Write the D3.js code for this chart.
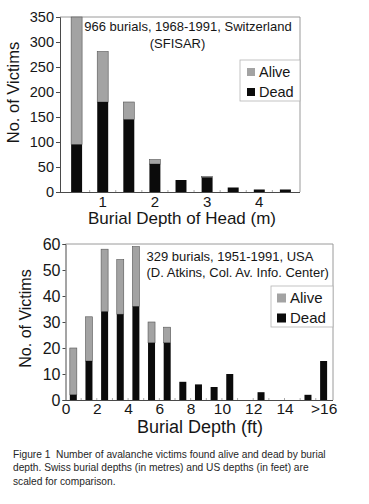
<!DOCTYPE html>
<html><head><meta charset="utf-8">
<script src="https://cdn.jsdelivr.net/npm/d3@7"></script>
<style>
html,body{margin:0;padding:0;background:#fff;}
svg{display:block;font-family:"Liberation Sans",Arial,sans-serif;}
</style></head>
<body>
<svg id="c" width="369" height="504"></svg>
<script>
// ---- Data ----
const swissBins = ["0-0.5","0.5-1","1-1.5","1.5-2","2-2.5","2.5-3","3-3.5","3.5-4","4-4.5"];
const swissTickLabels = ["", "1", "", "2", "", "3", "", "4", ""];
const swissDead  = [95, 180, 145, 56, 24, 29, 9, 5, 5];
const swissAlive = [255, 101, 35, 9, 0, 2, 0, 0, 0];
const swissYTicks = [0, 50, 100, 150, 200, 250, 300, 350];

const usBinStart = [0,1,2,3,4,5,6,7,8,9,10,11,12,13,14,15,16];
const usDead  = [2, 15, 34, 33, 36, 22, 22, 7, 6, 5, 10, 0, 3, 0, 0, 2, 15];
const usAlive = [18, 17, 24, 21, 23, 8, 6, 0, 0, 0, 0, 0, 0, 0, 0, 0, 0];
const usTickValues = [0, 2, 4, 6, 8, 10, 12, 14, 16.5];
const usTickLabels = ["0", "2", "4", "6", "8", "10", "12", "14", ">16"];
const usYTicks = [0, 10, 20, 30, 40, 50, 60];

const seriesNames = ["Alive", "Dead"];
const titleTop = ["966 burials, 1968-1991, Switzerland", "(SFISAR)"];
const titleBottom = ["329 burials, 1951-1991, USA", "(D. Atkins, Col. Av. Info. Center)"];
const caption = [
  "Figure 1  Number of avalanche victims found alive and dead by burial",
  "depth. Swiss burial depths (in metres) and US depths (in feet) are",
  "scaled for comparison."
];

const ALIVE = "#a3a3a3", DEAD = "#0b0b0b", AXIS = "#4a4a4a", FRAME = "#9a9a9a", TEXT = "#161616";
const svg = d3.select("#c");

// ================= TOP CHART =================
(function(){
  const L = 60, R = 300, T = 17, B = 192;
  const x = d3.scaleBand().domain(swissBins).range([62, R]).paddingInner(0.58).paddingOuter(0.35).align(0.5);
  const y = d3.scaleLinear().domain([0, 350]).range([B, T]);
  const g = svg.append("g");
  g.append("path").attr("d", `M${L},${T}H${R}V${B}`).attr("fill","none").attr("stroke",FRAME).attr("stroke-width",1);
  const stack = d3.stack().keys(["dead","alive"])(swissBins.map((c,i)=>({c, dead: swissDead[i], alive: swissAlive[i]})));
  g.selectAll("rect.a").data(stack[1]).join("rect")
    .attr("x", d=>x(d.data.c)).attr("width", x.bandwidth())
    .attr("y", d=>y(d[1])).attr("height", d=>Math.max(0,y(d[0])-y(d[1])))
    .attr("fill", ALIVE).attr("stroke", d=>d[1]>d[0]?"#555":"none").attr("stroke-width",0.6);
  g.selectAll("rect.d").data(stack[0]).join("rect")
    .attr("x", d=>x(d.data.c)).attr("width", x.bandwidth())
    .attr("y", d=>y(d[1])).attr("height", d=>y(d[0])-y(d[1]))
    .attr("fill", DEAD);
  const ya = g.append("g").attr("transform",`translate(${L},0)`)
    .call(d3.axisLeft(y).tickValues(swissYTicks).tickSize(4).tickPadding(2));
  ya.select(".domain").attr("stroke",AXIS);
  ya.selectAll(".tick line").attr("stroke",AXIS);
  ya.selectAll("text").attr("font-size",14.5).attr("fill",TEXT).attr("font-family","Liberation Sans, Arial");
  const xa = g.append("g").attr("transform",`translate(0,${B})`)
    .call(d3.axisBottom(x).tickSize(0).tickPadding(4).tickFormat((d,i)=>swissTickLabels[i]));
  xa.select(".domain").attr("stroke",AXIS).attr("d",`M${L},0.5H${R}`);
  xa.selectAll("text").attr("font-size",15).attr("fill",TEXT).attr("font-family","Liberation Sans, Arial");
  g.selectAll("line.mt").data(swissBins.slice(1)).join("line")
    .attr("x1", d=>x(d)-x.step()*x.paddingInner()/2).attr("x2", d=>x(d)-x.step()*x.paddingInner()/2)
    .attr("y1", B).attr("y2", B-2).attr("stroke", "#aaa");
  g.append("text").attr("transform","translate(19,92.5) rotate(-90)").attr("text-anchor","middle")
    .attr("font-size",16.5).attr("fill",TEXT).text("No. of Victims");
  g.append("text").attr("x",182).attr("y",224).attr("text-anchor","middle")
    .attr("font-size",17).attr("fill",TEXT).text("Burial Depth of Head (m)");
  g.append("text").attr("x",188).attr("y",30.5).attr("text-anchor","middle").attr("font-size",13).attr("fill",TEXT).text(titleTop[0]);
  g.append("text").attr("x",177.5).attr("y",48).attr("text-anchor","middle").attr("font-size",13).attr("fill",TEXT).text(titleTop[1]);
  const lg = g.append("g");
  lg.append("rect").attr("x",240).attr("y",60).attr("width",60).attr("height",41).attr("fill","#fff").attr("stroke","#b5b5b5").attr("stroke-width",0.8);
  [ALIVE, DEAD].forEach((c,i)=>{
    lg.append("rect").attr("x",247).attr("y",68+i*20).attr("width",8).attr("height",8).attr("fill",c);
    lg.append("text").attr("x",259).attr("y",77+i*20).attr("font-size",14.5).attr("fill",TEXT).text(seriesNames[i]);
  });
})();

// ================= BOTTOM CHART =================
(function(){
  const L = 65.5, R = 333, T = 244, B = 400;
  const x = d3.scaleLinear().domain([0, 17.1]).range([L, R]);
  const y = d3.scaleLinear().domain([0, 60]).range([B, T]);
  const bw = 7;
  const g = svg.append("g");
  g.append("path").attr("d", `M${L},${T}H${R}V${B}`).attr("fill","none").attr("stroke",FRAME).attr("stroke-width",1);
  const rows = usBinStart.map((s,i)=>({s, dead: usDead[i], alive: usAlive[i]}));
  const stack = d3.stack().keys(["dead","alive"])(rows);
  g.selectAll("rect.a").data(stack[1]).join("rect")
    .attr("x", d=>x(d.data.s+0.5)-bw/2).attr("width", bw)
    .attr("y", d=>y(d[1])).attr("height", d=>Math.max(0,y(d[0])-y(d[1])))
    .attr("fill", ALIVE).attr("stroke", d=>d[1]>d[0]?"#555":"none").attr("stroke-width",0.6);
  g.selectAll("rect.d").data(stack[0]).join("rect")
    .attr("x", d=>x(d.data.s+0.5)-bw/2).attr("width", bw)
    .attr("y", d=>y(d[1])).attr("height", d=>y(d[0])-y(d[1]))
    .attr("fill", DEAD);
  const ya = g.append("g").attr("transform",`translate(${L},0)`)
    .call(d3.axisLeft(y).tickValues(usYTicks).tickSize(3).tickPadding(2));
  ya.select(".domain").attr("stroke",AXIS);
  ya.selectAll(".tick line").attr("stroke",AXIS);
  ya.selectAll("text").attr("font-size",16).attr("fill",TEXT).attr("font-family","Liberation Sans, Arial");
  const xa = g.append("g").attr("transform",`translate(0,${B})`)
    .call(d3.axisBottom(x).tickValues(usTickValues).tickSize(0).tickPadding(3).tickFormat((d,i)=>usTickLabels[i]));
  xa.select(".domain").attr("stroke",AXIS).attr("d",`M${L},0.5H${R}`);
  xa.selectAll("text").attr("font-size",15.5).attr("fill",TEXT).attr("font-family","Liberation Sans, Arial");
  g.selectAll("line.mt").data(usBinStart.slice(1)).join("line")
    .attr("x1", d=>x(d)).attr("x2", d=>x(d)).attr("y1", B).attr("y2", B-2).attr("stroke","#aaa");
  g.append("text").attr("transform","translate(31,318.5) rotate(-90)").attr("text-anchor","middle")
    .attr("font-size",16).attr("fill",TEXT).text("No. of Victims");
  g.append("text").attr("x",200).attr("y",433).attr("text-anchor","middle")
    .attr("font-size",18).attr("fill",TEXT).text("Burial Depth (ft)");
  g.append("text").attr("x",146.5).attr("y",260.5).attr("font-size",13).attr("fill",TEXT).text(titleBottom[0]);
  g.append("text").attr("x",146.5).attr("y",276.5).attr("font-size",13).attr("fill",TEXT).text(titleBottom[1]);
  const lg = g.append("g");
  lg.append("rect").attr("x",271).attr("y",286).attr("width",62).attr("height",41).attr("fill","#fff").attr("stroke","#b5b5b5").attr("stroke-width",0.8);
  [ALIVE, DEAD].forEach((c,i)=>{
    lg.append("rect").attr("x",277).attr("y",293.5+i*20).attr("width",9).attr("height",9).attr("fill",c);
    lg.append("text").attr("x",290).attr("y",303+i*20).attr("font-size",15).attr("fill",TEXT).text(seriesNames[i]);
  });
})();

// ================= CAPTION =================
svg.append("g").selectAll("text").data(caption).join("text")
  .attr("x",13).attr("y",(d,i)=>458+i*13.3)
  .attr("font-size",10.2).attr("fill","#262626")
  .attr("font-family","Liberation Sans, Arial")
  .style("white-space","pre")
  .text(d=>d);
</script>
</body></html>
